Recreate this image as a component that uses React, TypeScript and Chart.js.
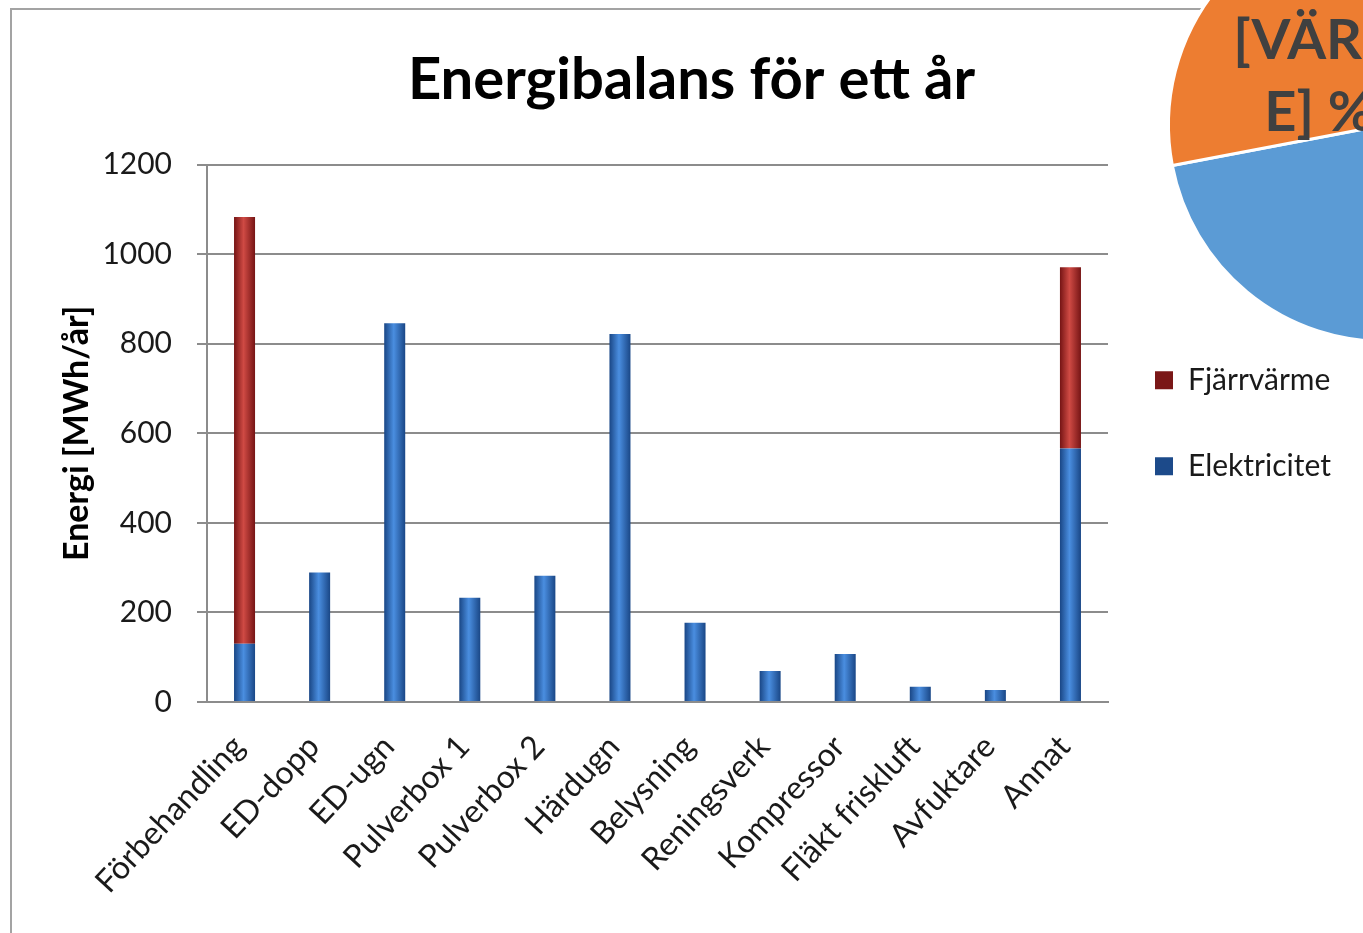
import React, { useEffect, useRef } from "react";
import { Chart, registerables } from "chart.js";

Chart.register(...registerables);

const categories = [
  "Förbehandling",
  "ED-dopp",
  "ED-ugn",
  "Pulverbox 1",
  "Pulverbox 2",
  "Härdugn",
  "Belysning",
  "Reningsverk",
  "Kompressor",
  "Fläkt friskluft",
  "Avfuktare",
  "Annat",
];
const elektricitet = [130, 289, 846, 233, 282, 822, 177, 69, 107, 34, 27, 566];
const fjarrvarme = [953, 0, 0, 0, 0, 0, 0, 0, 0, 0, 0, 405];
const seriesNames = ["Elektricitet", "Fjärrvärme"];
const yMin = 0;
const yMax = 1200;
const yStep = 200;
const chartTitle = "Energibalans för ett år";
const yTitle = "Energi [MWh/år]";

const pieNames = ["Del 1", "Del 2"];
const pieValues = [72, 28];
const pieLabelLines = ["[VÄRD", "E] %"];

const BLUE = { dark: "#1c4a8a", mid: "#2f6cbf", light: "#4a8ee0" };
const RED = { dark: "#7a1717", mid: "#b22e2b", light: "#cf4a44" };

function cylinder(c: any, col: { dark: string; mid: string; light: string }) {
  if (c.type !== "data") return col.mid;
  const chart = c.chart;
  const xs = chart.scales && chart.scales.x;
  if (!xs || !chart.chartArea) return col.mid;
  const cx = xs.getPixelForValue(c.dataIndex);
  const g = chart.ctx.createLinearGradient(cx - 10, 0, cx + 10, 0);
  g.addColorStop(0, col.dark);
  g.addColorStop(0.45, col.light);
  g.addColorStop(1, col.dark);
  return g;
}

const LEGEND_WIDTH = 255;

const legendTune = {
  id: "legendTune",
  beforeLayout(chart: any) {
    const l = chart.legend;
    if (!l || l._tuned) return;
    const orig = l.fit.bind(l);
    l.fit = function () {
      orig();
      this.width = LEGEND_WIDTH;
    };
    l._tuned = true;
  },
  afterLayout(chart: any) {
    const l = chart.legend;
    if (!l) return;
    l.left -= 9;
    l.right -= 9;
    l.top -= 10;
    l.bottom -= 10;
  },
};

const pieLabel = {
  id: "pieLabel",
  afterDatasetsDraw(chart: any) {
    const arc = chart.getDatasetMeta(0).data[1];
    if (!arc) return;
    const p = arc.getProps(["x", "y", "startAngle", "endAngle", "outerRadius"], true);
    const mid = (p.startAngle + p.endAngle) / 2;
    const d = p.outerRadius * 0.36;
    const px = p.x + Math.cos(mid) * d - 6;
    const py = p.y + Math.sin(mid) * d;
    const ctx = chart.ctx;
    ctx.save();
    ctx.font = "bold 56px Lato";
    ctx.fillStyle = "#404040";
    ctx.textAlign = "center";
    ctx.textBaseline = "middle";
    const n = pieLabelLines.length;
    pieLabelLines.forEach((t, i) => {
      ctx.fillText(t, px, py + 2 + (i - (n - 1) / 2) * 72);
    });
    ctx.restore();
  },
};

export default function App() {
  const mainRef = useRef<HTMLCanvasElement>(null);
  const pieRef = useRef<HTMLCanvasElement>(null);

  useEffect(() => {
    const main = new Chart(mainRef.current as HTMLCanvasElement, {
      type: "bar",
      data: {
        labels: categories,
        datasets: [
          {
            label: seriesNames[0],
            data: elektricitet,
            backgroundColor: (c: any) => cylinder(c, BLUE),
            stack: "s",
          },
          {
            label: seriesNames[1],
            data: fjarrvarme,
            backgroundColor: (c: any) => cylinder(c, RED),
            stack: "s",
          },
        ],
      },
      options: {
        responsive: false,
        animation: false,
        events: [],
        layout: { padding: { left: 20, right: 0, top: 0, bottom: 0 } },
        datasets: { bar: { categoryPercentage: 1, barPercentage: 0.28 } },
        scales: {
          x: {
            stacked: true,
            grid: { display: false, drawTicks: false },
            border: { color: "#8c8c8c", width: 2 },
            ticks: {
              font: { family: "Lato", size: 32 },
              color: "#1a1a1a",
              maxRotation: 47,
              minRotation: 47,
              autoSkip: false,
              padding: 26,
              labelOffset: -6,
            },
            afterFit: (s: any) => {
              s.height = 231;
            },
          },
          y: {
            stacked: true,
            min: yMin,
            max: yMax,
            ticks: {
              stepSize: yStep,
              font: { family: "Lato", size: 30 },
              color: "#1a1a1a",
              padding: 25,
              callback: (v: any) => String(v),
            },
            grid: { color: "#8c8c8c", lineWidth: 2, tickLength: 10 },
            border: { color: "#8c8c8c", width: 2 },
            title: {
              display: true,
              text: yTitle,
              font: { family: "Lato", size: 34, weight: "bold" },
              color: "#000",
              padding: { top: 37, bottom: 0 },
            },
            afterFit: (s: any) => {
              s.width = 187;
            },
          },
        },
        plugins: {
          title: {
            display: true,
            text: chartTitle,
            font: { family: "Lato", size: 58, weight: "bold" },
            color: "#000",
            padding: { top: 45, bottom: 50 },
          },
          legend: {
            position: "right",
            fullSize: false,
            reverse: true,
            labels: {
              boxWidth: 18,
              boxHeight: 18,
              padding: 56,
              font: { family: "Lato", size: 30 },
              color: "#1a1a1a",
            },
          },
          tooltip: { enabled: false },
        },
      } as any,
      plugins: [legendTune],
    });

    const pie = new Chart(pieRef.current as HTMLCanvasElement, {
      type: "pie",
      data: {
        labels: pieNames,
        datasets: [
          {
            data: pieValues,
            backgroundColor: ["#5b9bd5", "#ed7d31"],
            borderColor: "#ffffff",
            borderWidth: 3,
          },
        ],
      },
      options: {
        responsive: false,
        animation: false,
        events: [],
        layout: { padding: 12 },
        plugins: { legend: { display: false }, tooltip: { enabled: false } },
      } as any,
      plugins: [pieLabel],
    });

    return () => {
      main.destroy();
      pie.destroy();
    };
  }, []);

  return (
    <div
      style={{
        position: "fixed",
        left: 0,
        top: 0,
        width: 1363,
        height: 933,
        overflow: "hidden",
        background: "#ffffff",
      }}
    >
      <div
        style={{
          position: "absolute",
          left: 10,
          top: 8,
          width: 1600,
          height: 1200,
          border: "2px solid #a3a3a3",
        }}
      />
      <canvas
        ref={mainRef}
        width={1363}
        height={933}
        style={{ position: "absolute", left: 0, top: 0, width: 1363, height: 933 }}
      />
      <canvas
        ref={pieRef}
        width={460}
        height={460}
        style={{ position: "absolute", left: 1155, top: -105, width: 460, height: 460 }}
      />
    </div>
  );
}
